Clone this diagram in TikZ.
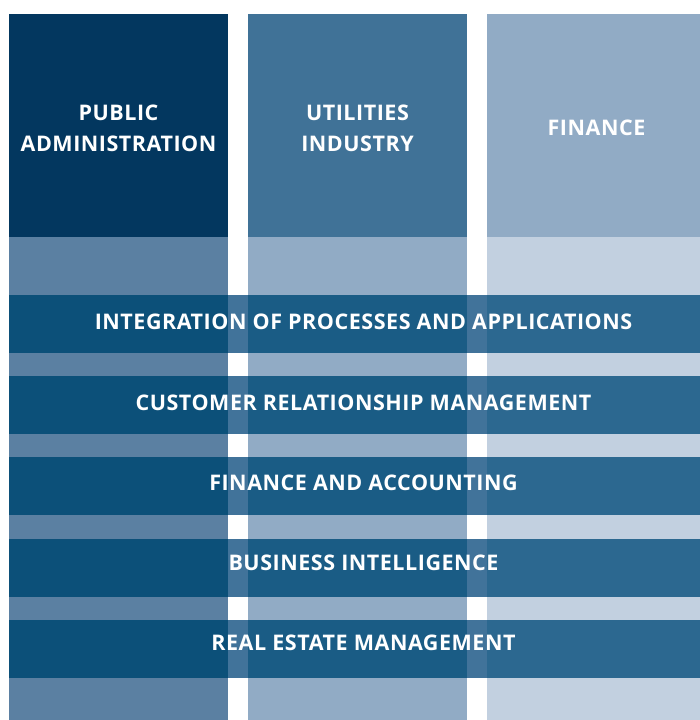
\documentclass[tikz,border=0pt]{standalone}
\usepackage{fontspec}
\setmainfont{Open Sans}[LetterSpace=2.5]
\definecolor{colAtop}{HTML}{03375F}
\definecolor{colAlow}{HTML}{5B80A2}
\definecolor{colBtop}{HTML}{407297}
\definecolor{colBlow}{HTML}{91ABC5}
\definecolor{colCtop}{HTML}{91ABC5}
\definecolor{colClow}{HTML}{C2D0E0}
\definecolor{bandgap}{HTML}{41739A}
\definecolor{bandA}{HTML}{0C5079}
\definecolor{bandB}{HTML}{1A5C85}
\definecolor{bandC}{HTML}{2C6890}

\begin{document}
\begin{tikzpicture}[x=1pt,y=-1pt,
    head/.style={text=white,align=center,font=\bfseries\fontsize{21.5}{30.5}\selectfont},
    bandtext/.style={text=white,font=\bfseries\fontsize{21.5}{30.5}\selectfont}]
    \useasboundingbox (0,0) rectangle (700,720);
    % columns
    \fill[colAtop] (9,14) rectangle (228,237);
    \fill[colAlow] (9,237) rectangle (228,720);
    \fill[colBtop] (248,14) rectangle (467,237);
    \fill[colBlow] (248,237) rectangle (467,720);
    \fill[colCtop] (487,14) rectangle (706,237);
    \fill[colClow] (487,237) rectangle (706,720);
    \node[head] (c1) at (118.5,128.5) {PUBLIC\\ADMINISTRATION};
    \node[head] (c2) at (357.5,128.5) {UTILITIES\\INDUSTRY};
    \node[head] (c3) at (596.5,128) {FINANCE};
    % bands
    \foreach \y/\ty/\t [count=\i] in {295/322/INTEGRATION OF PROCESSES AND APPLICATIONS,
        376/403/CUSTOMER RELATIONSHIP MANAGEMENT,
        457/482.5/FINANCE AND ACCOUNTING,
        539/562.5/BUSINESS INTELLIGENCE,
        620/643/REAL ESTATE MANAGEMENT} {
      \fill[bandgap] (9,\y) rectangle (718,\y+57.5);
      \fill[bandA] (9,\y) rectangle (228,\y+57.5);
      \fill[bandB] (248,\y) rectangle (467,\y+57.5);
      \fill[bandC] (487,\y) rectangle (718,\y+57.5);
      \node[bandtext] (b\i) at (363.5,\ty) {\t};
    }
\end{tikzpicture}
\end{document}
